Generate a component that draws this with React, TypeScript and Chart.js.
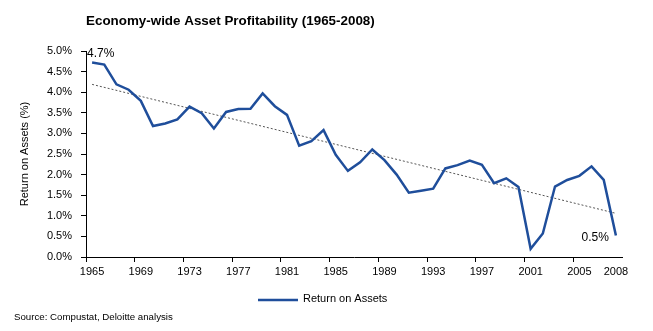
import React, { useEffect, useRef } from "react";
import { Chart, registerables } from "chart.js";

Chart.register(...registerables);

const years: string[] = [
  "1965","1966","1967","1968","1969","1970","1971","1972","1973","1974",
  "1975","1976","1977","1978","1979","1980","1981","1982","1983","1984",
  "1985","1986","1987","1988","1989","1990","1991","1992","1993","1994",
  "1995","1996","1997","1998","1999","2000","2001","2002","2003","2004",
  "2005","2006","2007","2008",
];

const roa: number[] = [
  4.72, 4.67, 4.19, 4.06, 3.79, 3.18, 3.24, 3.34, 3.65, 3.49,
  3.12, 3.52, 3.59, 3.60, 3.97, 3.66, 3.45, 2.70, 2.81, 3.08,
  2.48, 2.09, 2.30, 2.61, 2.35, 2.00, 1.56, 1.61, 1.66, 2.15,
  2.23, 2.34, 2.24, 1.79, 1.91, 1.70, 0.20, 0.57, 1.71, 1.87,
  1.97, 2.20, 1.87, 0.52,
];

const trendStart = 4.19;
const trendEnd = 1.06;

const yTicks: number[] = [0, 0.5, 1, 1.5, 2, 2.5, 3, 3.5, 4, 4.5, 5];

const titleText = "Economy-wide Asset Profitability (1965-2008)";
const yAxisTitle = "Return on Assets (%)";
const legendText = "Return on Assets";
const sourceText = "Source: Compustat, Deloitte analysis";

const FONT = "'Liberation Sans', Arial, sans-serif";
const BLUE = "#1f4e9b";

export default function App() {
  const ref = useRef<HTMLCanvasElement | null>(null);

  useEffect(() => {
    document.body.style.margin = "0";
    const canvas = ref.current;
    if (!canvas) return;

    const trend: (number | null)[] = years.map((_, i) =>
      i === 0 ? trendStart : i === years.length - 1 ? trendEnd : null
    );

    const textPlugin = {
      id: "textPlugin",
      afterDraw(chart: any) {
        const ctx = chart.ctx as CanvasRenderingContext2D;
        const xs = chart.scales.x;
        const ys = chart.scales.y;
        ctx.save();
        ctx.fillStyle = "#000";
        // title
        ctx.font = `bold 13.4px ${FONT}`;
        ctx.textAlign = "left";
        ctx.textBaseline = "middle";
        ctx.fillText(titleText, 86, 21);
        // y axis title
        ctx.save();
        ctx.font = `11px ${FONT}`;
        ctx.translate(25, (chart.chartArea.top + chart.chartArea.bottom) / 2);
        ctx.rotate(-Math.PI / 2);
        ctx.textAlign = "center";
        ctx.fillText(yAxisTitle, 0, 0);
        ctx.restore();
        // data labels
        ctx.font = `12px ${FONT}`;
        const first = roa[0];
        const last = roa[roa.length - 1];
        const x0 = xs.getPixelForValue(0);
        const y0 = ys.getPixelForValue(first);
        ctx.textAlign = "left";
        ctx.fillText(`${first.toFixed(1)}%`, x0 - 5, y0 - 9);
        const xl = xs.getPixelForValue(roa.length - 1);
        const yl = ys.getPixelForValue(last);
        ctx.textAlign = "right";
        ctx.fillText(`${last.toFixed(1)}%`, xl - 7, yl + 2);
        // legend
        ctx.strokeStyle = BLUE;
        ctx.lineWidth = 2.5;
        ctx.beginPath();
        ctx.moveTo(258, 300);
        ctx.lineTo(298, 300);
        ctx.stroke();
        ctx.font = `11px ${FONT}`;
        ctx.textAlign = "left";
        ctx.fillText(legendText, 303, 299);
        // source
        ctx.font = `9.7px ${FONT}`;
        ctx.fillText(sourceText, 14, 317);
        ctx.restore();
      },
    };

    const chart = new Chart(canvas, {
      type: "line",
      data: {
        labels: years,
        datasets: [
          {
            label: "Trend",
            data: trend,
            borderColor: "#555",
            borderWidth: 1,
            borderDash: [2, 2],
            pointRadius: 0,
            spanGaps: true,
            order: 2,
          },
          {
            label: legendText,
            data: roa,
            borderColor: BLUE,
            borderWidth: 2.5,
            pointRadius: 0,
            tension: 0,
            order: 1,
          },
        ],
      },
      options: {
        animation: false,
        responsive: false,
        maintainAspectRatio: false,
        devicePixelRatio: 1,
        layout: { padding: { left: 0, right: 31, top: 51, bottom: 0 } },
        plugins: {
          legend: { display: false },
          title: { display: false },
          tooltip: { enabled: false },
        },
        scales: {
          x: {
            type: "category",
            offset: true,
            afterFit: (s: any) => {
              s.height = 74;
            },
            grid: {
              offset: true,
              drawOnChartArea: false,
              drawTicks: true,
              tickLength: 5,
              tickColor: (c: any) => (c.index % 4 === 0 ? "#000" : "rgba(0,0,0,0)"),
            },
            border: { color: "#000", width: 1 },
            ticks: {
              autoSkip: false,
              maxRotation: 0,
              minRotation: 0,
              padding: 3,
              color: "#000",
              font: { family: FONT, size: 11 },
              callback: (_v: any, i: number) =>
                i % 4 === 0 || i === years.length - 1 ? years[i] : "",
            },
          },
          y: {
            min: 0,
            max: 5,
            afterFit: (s: any) => {
              s.width = 86;
            },
            afterBuildTicks: (s: any) => {
              s.ticks = yTicks.map((v) => ({ value: v }));
            },
            grid: {
              drawOnChartArea: false,
              drawTicks: true,
              tickLength: 5,
              tickColor: "#000",
            },
            border: { color: "#000", width: 1 },
            ticks: {
              padding: 9,
              color: "#000",
              font: { family: FONT, size: 11 },
              callback: (v: any) => `${Number(v).toFixed(1)}%`,
            },
          },
        },
      },
      plugins: [textPlugin],
    });

    return () => chart.destroy();
  }, []);

  return (
    <div style={{ width: 653, height: 331, background: "#fff" }}>
      <canvas ref={ref} width={653} height={331} style={{ display: "block" }} />
    </div>
  );
}
